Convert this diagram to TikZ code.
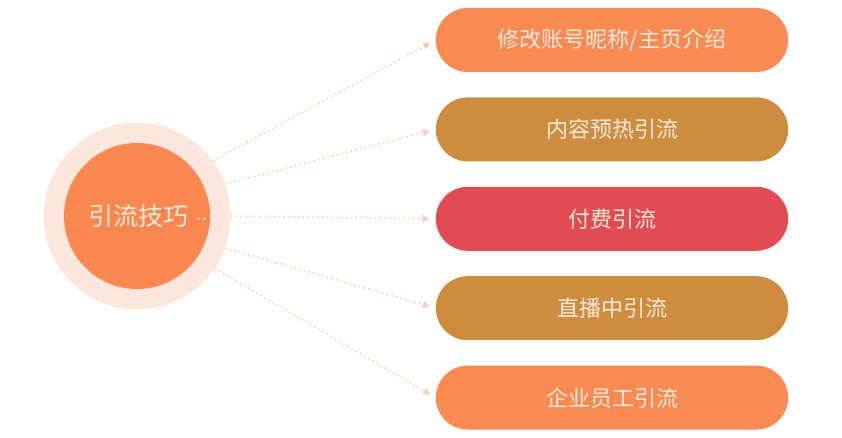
\documentclass[tikz,border=0pt]{standalone}
\usepackage{fontspec}
\newfontfamily\cjk{Noto Sans CJK SC}
\newfontfamily\dotfont{DejaVu Sans}
\usetikzlibrary{positioning,arrows.meta,shapes.misc}
\definecolor{ringpink}{HTML}{FCE7DD}
\definecolor{huborange}{HTML}{F9874F}
\definecolor{pillorange}{HTML}{F98A52}
\definecolor{pillochre}{HTML}{CD8C3E}
\definecolor{pillred}{HTML}{E24B52}
\definecolor{textcream}{HTML}{FCEBDD}
\definecolor{flowpink}{HTML}{F8CDBB}
\begin{document}
\begin{tikzpicture}[x=1pt,y=1pt]
        \tikzset{pill/.style={rounded rectangle,minimum width=359pt,minimum height=64pt,
                text=textcream,font=\cjk\fontsize{22}{25}\selectfont},
            flow/.style={flowpink,line width=1.6pt,dash pattern=on 1.6pt off 3.2pt,
                -{Triangle[length=7pt,width=7pt]},shorten >=6pt}}
        \useasboundingbox (0,0) rectangle (842,-438);
        \node[circle,fill=ringpink,minimum size=187pt] (ring) at (137,-216) {};
        \node[circle,fill=huborange,minimum size=146pt] (hub) at (ring) {};
        \node[text=textcream,font=\cjk\fontsize{25}{28}\selectfont] (hublabel)
            at ([xshift=11pt]hub.center) {引流技巧\hspace{7pt}{\dotfont\fontsize{18}{20}\selectfont ··}};
        \node[pill,fill=pillorange] (p1) at (612,-40) {修改账号昵称/主页介绍};
        \node[pill,fill=pillochre,below=25pt of p1] (p2) {内容预热引流};
        \node[pill,fill=pillred,below=25pt of p2] (p3) {付费引流};
        \node[pill,fill=pillochre,below=25pt of p3] (p4) {直播中引流};
        \node[pill,fill=pillorange,below=25pt of p4] (p5) {企业员工引流};
        \foreach \a/\p in {36/p1,20/p2,0/p3,-20/p4,-34/p5}
            \draw[flow] (ring.\a) -- (\p.west);
    \end{tikzpicture}
\end{document}
